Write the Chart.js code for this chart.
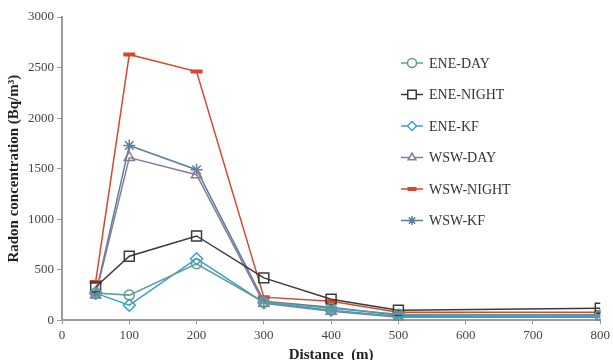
<!DOCTYPE html>
<html>
<head>
<meta charset="utf-8">
<script src="https://cdn.jsdelivr.net/npm/chart.js@4/dist/chart.umd.min.js"></script>
<style>
  html, body { margin: 0; padding: 0; background: #fff; overflow: hidden; }
  #wrap { width: 613px; height: 360px; position: relative; }
</style>
</head>
<body>
<div id="wrap"><canvas id="migrafica"></canvas></div>
<script>
// distances (m)
const distances = [50, 100, 200, 300, 400, 500, 800];

// radon concentration (Bq/m3) per series
const eneDay   = [270, 250, 560, 180, 120, 60, 50];
const eneNight = [330, 635, 835, 420, 210, 100, 120];
const eneKf    = [270, 150, 610, 175, 100, 40, 40];
const wswDay   = [250, 1610, 1440, 170, 90, 30, 30];
const wswNight = [380, 2630, 2460, 230, 190, 80, 80];
const wswKf    = [260, 1730, 1490, 190, 130, 50, 55];

const seriesNames = ["ENE-DAY", "ENE-NIGHT", "ENE-KF", "WSW-DAY", "WSW-NIGHT", "WSW-KF"];
const xTicks = [0, 100, 200, 300, 400, 500, 600, 700, 800];

function pts(vals) {
    return vals.map(function (v, i) { return { x: distances[i], y: v }; });
}

const serif = "'Liberation Serif', 'DejaVu Serif', serif";

const styles = [
    { color: '#5f9c94', point: 'circle', r: 5 },
    { color: '#3a3a3a', point: 'rect', r: 7 },
    { color: '#3c9fcb', point: 'rectRot', r: 6 },
    { color: '#8a7b99', point: 'triangle', r: 6 },
    { color: '#d8462c', point: 'line', r: 6 },
    { color: '#5d7d9e', point: 'star', r: 6 }
];

const allData = [eneDay, eneNight, eneKf, wswDay, wswNight, wswKf];

const datasets = allData.map(function (vals, i) {
    const s = styles[i];
    return {
        label: seriesNames[i],
        data: pts(vals),
        borderColor: s.color,
        backgroundColor: 'rgba(255,255,255,0)',
        borderWidth: 1.5,
        pointStyle: s.point,
        pointRadius: s.r,
        pointBorderColor: s.color,
        pointBorderWidth: s.point === 'line' ? 4 : 1.5,
        pointBackgroundColor: 'rgba(255,255,255,0)',
        tension: 0
    };
});

// legend drawn inside the plot, to the right of the peaks
const insideLegend = {
    id: 'insideLegend',
    afterDraw: function (chart) {
        const ctx = chart.ctx;
        ctx.save();
        chart.data.datasets.forEach(function (ds, i) {
            const y = 63 + i * 31.5;
            ctx.strokeStyle = ds.borderColor;
            ctx.lineWidth = 1.5;
            ctx.beginPath();
            ctx.moveTo(401, y);
            ctx.lineTo(423, y);
            ctx.stroke();
            ctx.lineWidth = ds.pointBorderWidth;
            ctx.fillStyle = '#fff';
            if (Chart.helpers && Chart.helpers.drawPoint) {
                Chart.helpers.drawPoint(ctx, {
                    pointStyle: ds.pointStyle,
                    radius: ds.pointStyle === 'rect' ? 6 : 4.5,
                    rotation: 0,
                    borderWidth: ds.pointBorderWidth
                }, 412, y);
            }
            ctx.fillStyle = '#333';
            ctx.font = '14px ' + serif;
            ctx.textBaseline = 'middle';
            ctx.textAlign = 'left';
            ctx.fillText(ds.label, 429, y + 1);
        });
        ctx.restore();
    }
};

function plain(v) { return String(v); }

let chart = new Chart(document.getElementById("migrafica").getContext("2d"), {
    type: 'line',
    data: { datasets: datasets },
    plugins: [insideLegend],
    options: {
        responsive: true,
        maintainAspectRatio: false,
        animation: false,
        layout: { padding: { top: 17, left: 5, right: 0, bottom: -4 } },
        plugins: {
            legend: { display: false },
            tooltip: { enabled: false }
        },
        scales: {
            x: {
                type: 'linear',
                min: 0,
                max: 800,
                afterBuildTicks: function (axis) {
                    axis.ticks = xTicks.map(function (v) { return { value: v }; });
                },
                border: { color: '#9a9a9a', width: 2 },
                grid: { drawOnChartArea: false, color: '#9a9a9a', tickLength: 4 },
                ticks: { callback: plain, color: '#444', font: { family: serif, size: 13 }, padding: 3, maxRotation: 0 },
                title: {
                    display: true,
                    text: 'Distance  (m)',
                    color: '#222',
                    font: { family: serif, size: 15, weight: 'bold' },
                    padding: { top: 0, bottom: 0 }
                }
            },
            y: {
                min: 0,
                max: 3000,
                ticks: { stepSize: 500, callback: plain, color: '#444', font: { family: serif, size: 13 }, padding: 3 },
                border: { color: '#9a9a9a', width: 2 },
                grid: { drawOnChartArea: false, color: '#9a9a9a', tickLength: 5 },
                title: {
                    display: true,
                    text: 'Radon concentration (Bq/m³)',
                    color: '#222',
                    font: { family: serif, size: 15, weight: 'bold' },
                    padding: { top: 0, bottom: 2 }
                }
            }
        }
    }
});
</script>
</body>
</html>
